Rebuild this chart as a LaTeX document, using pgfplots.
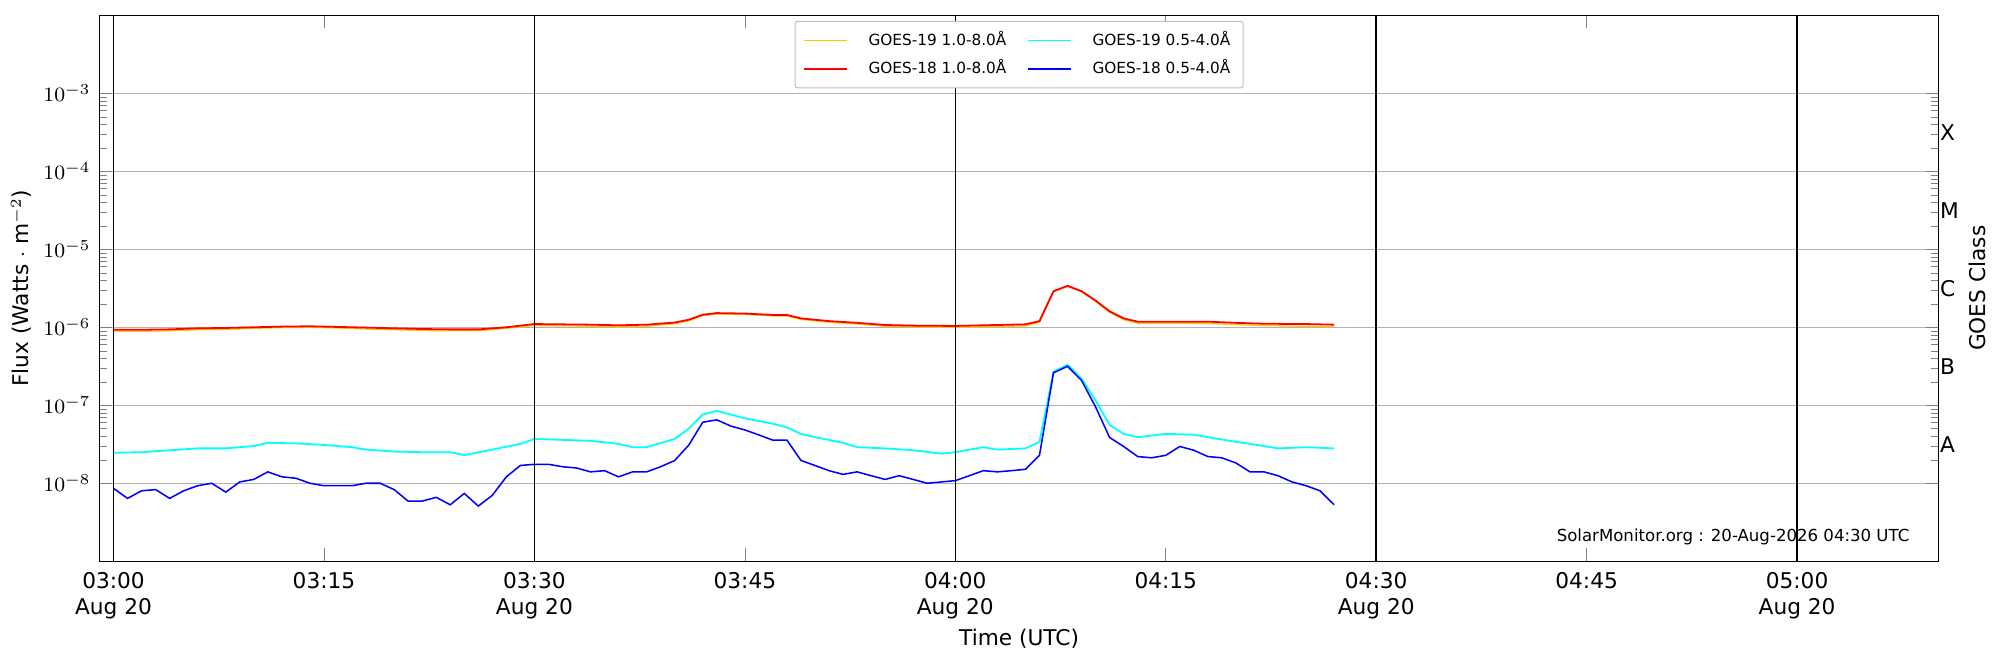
\documentclass[border=0pt]{standalone}
\usepackage{pgfplots}
\usepackage{pgfplotstable}
\pgfplotsset{compat=1.18}
\usepackage{fontspec}
\setmainfont{DejaVu Sans}
\definecolor{cy}{RGB}{0,255,255}
\definecolor{bl}{RGB}{0,0,255}
\definecolor{rd}{RGB}{255,0,0}
\definecolor{gd}{RGB}{255,200,0}
\begin{document}
\begin{tikzpicture}
\pgfplotstableread{
t a b
0 9.3e-7 8.9e-7
2 9.3e-7 8.9e-7
4 9.4e-7 9.0e-7
6 9.7e-7 9.3e-7
8 9.8e-7 9.4e-7
10 1.0e-6 9.7e-7
12 1.02e-6 9.9e-7
14 1.03e-6 1.0e-6
16 1.01e-6 9.8e-7
18 9.9e-7 9.5e-7
20 9.7e-7 9.3e-7
22 9.5e-7 9.1e-7
24 9.4e-7 9.0e-7
26 9.4e-7 9.0e-7
28 1.0e-6 9.7e-7
30 1.1e-6 1.05e-6
32 1.09e-6 1.04e-6
34 1.08e-6 1.03e-6
36 1.06e-6 1.01e-6
38 1.08e-6 1.03e-6
40 1.15e-6 1.11e-6
41 1.25e-6 1.21e-6
42 1.45e-6 1.41e-6
43 1.52e-6 1.48e-6
45 1.5e-6 1.46e-6
47 1.44e-6 1.4e-6
48 1.44e-6 1.4e-6
49 1.3e-6 1.26e-6
51 1.2e-6 1.16e-6
53 1.14e-6 1.1e-6
55 1.07e-6 1.03e-6
57 1.05e-6 1.01e-6
60 1.04e-6 1.0e-6
63 1.07e-6 1.02e-6
65 1.09e-6 1.04e-6
66 1.2e-6 1.16e-6
67 2.9e-6 2.85e-6
68 3.4e-6 3.35e-6
69 2.9e-6 2.85e-6
70 2.2e-6 2.15e-6
71 1.6e-6 1.55e-6
72 1.3e-6 1.25e-6
73 1.18e-6 1.13e-6
75 1.18e-6 1.13e-6
78 1.18e-6 1.12e-6
80 1.14e-6 1.08e-6
82 1.11e-6 1.05e-6
85 1.1e-6 1.03e-6
87 1.08e-6 1.02e-6
}\xa
\pgfplotstableread{
t a
0 8.6e-9
1 6.4e-9
2 8.0e-9
3 8.3e-9
4 6.4e-9
5 8.0e-9
6 9.3e-9
7 1.0e-8
8 7.7e-9
9 1.04e-8
10 1.12e-8
11 1.4e-8
12 1.21e-8
13 1.16e-8
14 1.0e-8
15 9.3e-9
17 9.3e-9
18 1.0e-8
19 1.0e-8
20 8.3e-9
21 5.9e-9
22 5.9e-9
23 6.6e-9
24 5.3e-9
25 7.4e-9
26 5.1e-9
27 7.0e-9
28 1.21e-8
29 1.69e-8
30 1.75e-8
31 1.75e-8
32 1.63e-8
33 1.57e-8
34 1.4e-8
35 1.45e-8
36 1.21e-8
37 1.4e-8
38 1.4e-8
39 1.63e-8
40 1.96e-8
41 3.08e-8
42 6.06e-8
43 6.5e-8
44 5.41e-8
45 4.83e-8
46 4.16e-8
47 3.57e-8
48 3.57e-8
49 1.96e-8
50 1.69e-8
51 1.45e-8
52 1.30e-8
53 1.40e-8
54 1.25e-8
55 1.12e-8
56 1.25e-8
57 1.12e-8
58 1.0e-8
59 1.04e-8
60 1.08e-8
61 1.25e-8
62 1.45e-8
63 1.4e-8
64 1.45e-8
65 1.51e-8
66 2.28e-8
67 2.61e-7
68 3.16e-7
69 2.08e-7
70 9.5e-8
71 3.86e-8
72 2.96e-8
73 2.2e-8
74 2.12e-8
75 2.28e-8
76 2.96e-8
77 2.65e-8
78 2.2e-8
79 2.12e-8
80 1.82e-8
81 1.4e-8
82 1.4e-8
83 1.25e-8
84 1.04e-8
85 9.3e-9
86 8.0e-9
87 5.3e-9
}\xb
\pgfplotstableread{
t a
0 2.46e-8
2 2.5e-8
4 2.65e-8
6 2.8e-8
8 2.8e-8
10 3.0e-8
11 3.3e-8
13 3.25e-8
15 3.1e-8
17 2.9e-8
18 2.7e-8
20 2.55e-8
22 2.5e-8
24 2.5e-8
25 2.3e-8
27 2.7e-8
29 3.2e-8
30 3.7e-8
32 3.6e-8
34 3.5e-8
36 3.2e-8
37 2.9e-8
38 2.9e-8
40 3.7e-8
41 5.0e-8
42 7.6e-8
43 8.5e-8
45 6.8e-8
47 5.8e-8
48 5.2e-8
49 4.3e-8
50 3.9e-8
52 3.3e-8
53 2.9e-8
55 2.8e-8
57 2.65e-8
59 2.4e-8
60 2.5e-8
62 2.9e-8
63 2.7e-8
65 2.8e-8
66 3.4e-8
67 2.7e-7
68 3.3e-7
69 2.2e-7
70 1.15e-7
71 5.6e-8
72 4.3e-8
73 3.9e-8
75 4.3e-8
77 4.2e-8
78 3.9e-8
80 3.4e-8
82 3.0e-8
83 2.8e-8
85 2.9e-8
87 2.8e-8
}\xc
\begin{axis}[name=a,
  width=721pt, height=214pt, scale only axis,
  xmin=-1, xmax=130.1, ymode=log, ymin=1e-9, ymax=1e-2,
  font=\fontsize{8.5}{10}\selectfont,
  xtick={0,15,30,45,60,75,90,105,120},
  xticklabels={{03:00\\Aug 20},03:15,{03:30\\Aug 20},03:45,{04:00\\Aug 20},04:15,{04:30\\Aug 20},04:45,{05:00\\Aug 20}},
  xticklabel style={align=center, anchor=north, yshift=-1pt},
  ytick={1e-8,1e-7,1e-6,1e-5,1e-4,1e-3},
  tick align=inside, tick pos=both, major tick length=5pt, minor tick length=3pt,
  ymajorgrids, major grid style={gray!60, line width=0.5pt},
  xlabel={Time (UTC)}, ylabel={Flux (Watts $\cdot$ m$^{-2}$)},
  xlabel style={yshift=3pt}, ylabel style={yshift=-2pt},
  legend style={at={(0.5,0.99)}, anchor=north, font=\fontsize{6}{7}\selectfont, draw=gray!50, rounded corners=1pt, legend columns=2, column sep=6pt, cells={anchor=west}},
  clip=false,
]
\addplot[gd, line width=0.5pt] table[x=t,y=b] {\xa};
\addlegendentry{GOES-19 1.0-8.0\AA}
\addplot[cy, line width=0.7pt] table[x=t,y=a] {\xc};
\addlegendentry{GOES-19 0.5-4.0\AA}
\addplot[rd, line width=0.7pt] table[x=t,y=a] {\xa};
\addlegendentry{GOES-18 1.0-8.0\AA}
\addplot[bl, line width=0.6pt] table[x=t,y=a] {\xb};
\addlegendentry{GOES-18 0.5-4.0\AA}
\draw[black, line width=0.6pt] (axis cs:0,1e-9) -- (axis cs:0,1e-2);
\draw[black, line width=0.6pt] (axis cs:30,1e-9) -- (axis cs:30,1e-2);
\draw[black, line width=0.6pt] (axis cs:60,1e-9) -- (axis cs:60,1e-2);
\draw[black, line width=0.6pt] (axis cs:90,1e-9) -- (axis cs:90,1e-2);
\draw[black, line width=0.6pt] (axis cs:120,1e-9) -- (axis cs:120,1e-2);
\node[anchor=west, xshift=-3pt] at (axis cs:130.1,3.16e-8) {A};
\node[anchor=west, xshift=-3pt] at (axis cs:130.1,3.16e-7) {B};
\node[anchor=west, xshift=-3pt] at (axis cs:130.1,3.16e-6) {C};
\node[anchor=west, xshift=-3pt] at (axis cs:130.1,3.16e-5) {M};
\node[anchor=west, xshift=-3pt] at (axis cs:130.1,3.16e-4) {X};
\node[rotate=90] at ([xshift=15pt]axis cs:130.1,3.16e-6) {GOES Class};
\node[anchor=south east, font=\fontsize{6.5}{8}\selectfont] at ([xshift=-8pt,yshift=3pt]rel axis cs:1,0) {SolarMonitor.org : 20-Aug-2026 04:30 UTC};
\end{axis}
\path ([shift={(-39pt,-35pt)}]a.south west) rectangle ([shift={(24pt,6pt)}]a.north east);
\end{tikzpicture}
\end{document}
